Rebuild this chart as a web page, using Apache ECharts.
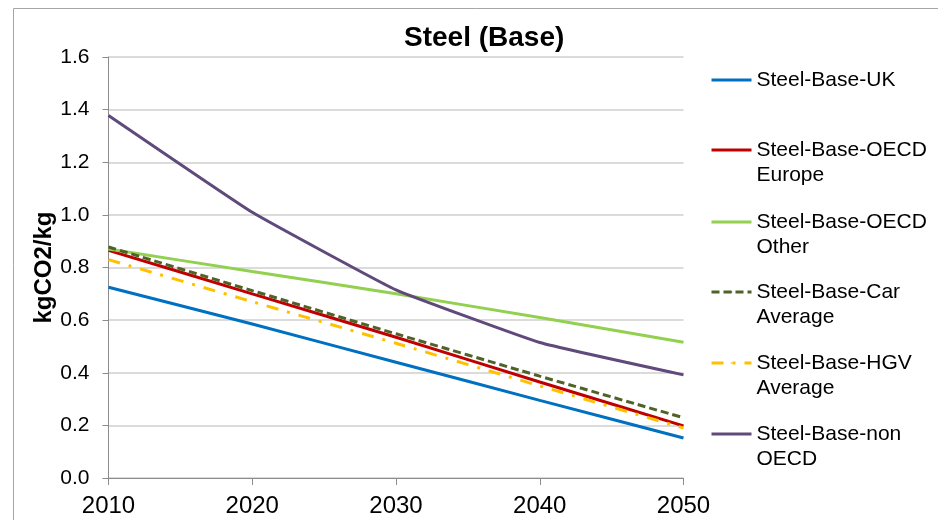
<!DOCTYPE html>
<html>
<head>
<meta charset="utf-8">
<script src="https://cdn.jsdelivr.net/npm/echarts@6/dist/echarts.min.js"></script>
<style>
  html, body { margin: 0; padding: 0; background: #fff; }
  #chart { width: 938px; height: 520px; }
</style>
</head>
<body>
<div id="chart"></div>
<script>
// Steel emission factors (kgCO2 per kg of steel), base scenario
const years = ['2010', '2020', '2030', '2040', '2050'];
const yTicks = [0, 0.2, 0.4, 0.6, 0.8, 1.0, 1.2, 1.4, 1.6];

const seriesNames = [
  'Steel-Base-UK',
  'Steel-Base-OECD\nEurope',
  'Steel-Base-OECD\nOther',
  'Steel-Base-Car\nAverage',
  'Steel-Base-HGV\nAverage',
  'Steel-Base-non\nOECD'
];

const ukValues        = [0.725, 0.585, 0.440, 0.295, 0.152];
const oecdEurope      = [0.865, 0.700, 0.535, 0.365, 0.198];
const oecdOther       = [0.870, 0.785, 0.700, 0.610, 0.516];
const carAverage      = [0.878, 0.712, 0.548, 0.387, 0.229];
const hgvAverage      = [0.830, 0.670, 0.512, 0.350, 0.190];
const nonOecd         = [1.378, 1.010, 0.715, 0.515, 0.392];

const seriesValues = [ukValues, oecdEurope, oecdOther, carAverage, hgvAverage, nonOecd];
const seriesColors = ['#0070C0', '#C00000', '#92D050', '#4F6228', '#FFC000', '#604A7B'];
const seriesDash = ['solid', 'solid', 'solid', [8, 4], [12, 9, 3, 9], 'solid'];

// legend rows: vertical centre of each legend line marker
const legendRows = [80, 150, 222, 292, 363, 434];

const FONT = '"Liberation Sans", Arial, sans-serif';
const LINE_H = 25;

const chart = echarts.init(document.getElementById('chart'), null, { renderer: 'canvas' });

// One legend per entry so each marker sits beside the first line of its label.
// A leading blank line keeps the first text line centred on the marker.
const legends = seriesNames.map((name, i) => {
  const lines = name.split('\n').length;
  const blank = lines - 1;
  const boxH = (lines + blank) * LINE_H;
  return {
    data: [name],
    left: 710,
    top: legendRows[i] - boxH / 2,
    padding: 0,
    itemWidth: 40,
    itemHeight: 2,
    selectedMode: false,
    formatter: n => '\n'.repeat(blank) + n,
    lineStyle: { width: 3 },
    textStyle: {
      fontFamily: FONT,
      fontSize: 21,
      color: '#000',
      lineHeight: LINE_H
    }
  };
});

const series = seriesNames.map((name, i) => ({
  name: name,
  type: 'line',
  data: seriesValues[i],
  symbol: 'none',
  smooth: 0.1,
  lineStyle: {
    color: seriesColors[i],
    width: 3,
    type: seriesDash[i],
    cap: 'butt'
  },
  itemStyle: { color: seriesColors[i] },
  z: 2 + i
}));

chart.setOption({
  animation: false,
  backgroundColor: '#fff',
  textStyle: { fontFamily: FONT },
  title: {
    text: 'Steel (Base)',
    left: 404,
    top: 24,
    padding: 0,
    textStyle: { fontFamily: FONT, fontSize: 28, fontWeight: 'bold', color: '#000' }
  },
  graphic: [{
    type: 'rect',
    shape: { x: 13.5, y: 8.5, width: 940, height: 540 },
    style: { fill: 'none', stroke: '#a6a6a6', lineWidth: 1 },
    silent: true,
    z: -1
  }],
  legend: legends,
  grid: { left: 108.5, right: 254.5, top: 57, bottom: 42, containLabel: false },
  xAxis: {
    type: 'category',
    data: years,
    boundaryGap: false,
    axisLine: { lineStyle: { color: '#8c8c8c', width: 1 } },
    axisTick: { show: true, alignWithLabel: true, length: 7, inside: false, lineStyle: { color: '#8c8c8c' } },
    axisLabel: { color: '#000', fontSize: 24, fontFamily: FONT, margin: 16 },
    splitLine: { show: false }
  },
  yAxis: {
    type: 'value',
    min: yTicks[0],
    max: yTicks[yTicks.length - 1],
    interval: 0.2,
    name: 'kgCO2/kg',
    nameLocation: 'middle',
    nameGap: 52,
    nameMoveOverlap: false,
    nameTextStyle: { fontFamily: FONT, fontSize: 24, fontWeight: 'bold', color: '#000' },
    axisLine: { show: true, lineStyle: { color: '#8c8c8c', width: 1 } },
    axisTick: { show: true, length: 6, lineStyle: { color: '#8c8c8c' } },
    axisLabel: {
      color: '#000', fontSize: 21, fontFamily: FONT, margin: 19,
      formatter: v => v.toFixed(1)
    },
    splitLine: { show: true, lineStyle: { color: '#cfcfcf', width: 1.5 } }
  },
  series: series
});
</script>
</body>
</html>
